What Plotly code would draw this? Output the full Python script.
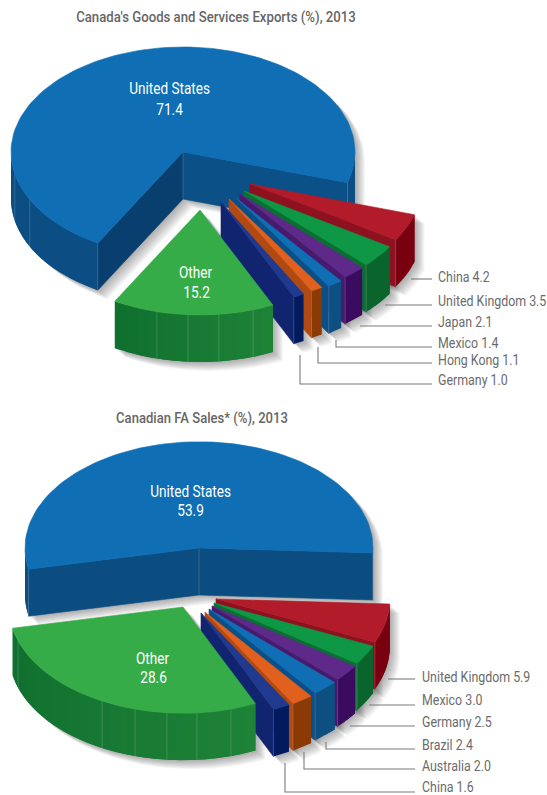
import json
import math
import plotly.graph_objects as go

# ---------- data ----------
exports_names = ["United States", "China", "United Kingdom", "Japan", "Mexico", "Hong Kong", "Germany", "Other"]
exports_values = [71.4, 4.2, 3.5, 2.1, 1.4, 1.1, 1.0, 15.2]
sales_names = ["United States", "United Kingdom", "Mexico", "Germany", "Brazil", "Australia", "China", "Other"]
sales_values = [53.9, 5.9, 3.0, 2.5, 2.4, 2.0, 1.6, 28.6]
title_exports = "Canada's Goods and Services Exports (%), 2013"
title_sales = "Canadian FA Sales* (%), 2013"

# ---------- styles / layout ----------
TOP = ["#0F6EB4", "#B21B2A", "#0E9744", "#5E2988", "#0F6EB4", "#E2601E", "#1F3A8F", "#36AC48"]
SIDE = ["#0B5187", "#8E1120", "#0B6E35", "#471A6E", "#0B4F85", "#B04A12", "#10246F", "#107030"]
SIDE_HI = ["#083F6E"] * 8
RIM_L = ["#0C4E83", "#78000F", "#0A652D", "#3A0B5E", "#0C4F80", "#8C3A05", "#021A5E", "#1E8237"]
RIM_R = ["#0C4E83", "#78000F", "#0A652D", "#3A0B5E", "#0C4F80", "#8C3A05", "#021A5E", "#0F6E2E"]
RATIO = 105 / 172
DEPTH = 47
GREY = "#6B6B6B"
FONT = "Roboto, sans-serif"
STEP = 4.0

exports_geo = dict(
    rx=172, start=-17,
    apex=[(183, 152), (250, 184), (244, 191), (240, 194), (236, 198), (229, 199), (221, 202), (200, 210)],
    seams={0: [192, 207], 7: [-104.5, -94, -83.7, -72]},
    side_hi="#083F6E", side0="#0B5187",
    inner=[("United States", 169, 88), ("Other", 196, 272)],
    inner_val=[109, 292],
    title_xy=(74, 17),
    label_x=435.5,
    label_y=[277, 301, 322, 343, 360, 380],
    leaders=[[(411, 279), (432, 279)], [(385, 305), (432, 305)], [(360, 326), (432, 326)],
             [(336, 340), (336, 347), (432, 347)], [(318, 347), (318, 363), (432, 363)],
             [(300, 355), (300, 384), (432, 384)]],
)
sales_geo = dict(
    rx=174, start=-2.7,
    apex=[(199, 548), (216, 599), (214, 603), (212, 606), (209, 609), (205, 612), (201, 613), (183, 607)],
    seams={7: [-161.4, -117.7, -106, -95.3, -85.4, -74]},
    side_hi="#0B4D80", side0="#0B4D80",
    inner=[("United States", 190, 491), ("Other", 153, 658)],
    inner_val=[510, 677],
    title_xy=(114, 418),
    label_x=419.5,
    label_y=[677, 700, 722, 745, 766, 787],
    leaders=[[(388, 679), (415, 679)], [(369, 705), (415, 705)], [(350, 726), (415, 726)],
             [(326, 742), (326, 749), (415, 749)], [(304, 752), (304, 769), (415, 769)],
             [(285, 763), (285, 792), (415, 792)]],
)

fig = go.Figure()
shadow_traces, wedge_traces = [], []


def poly(pts, fill, line=None, width=0.6):
    xs = [p[0] for p in pts] + [pts[0][0]]
    ys = [p[1] for p in pts] + [pts[0][1]]
    return go.Scatter(x=xs, y=ys, mode="lines", fill="toself", fillcolor=fill,
                      line=dict(color=line or fill, width=width), hoverinfo="skip", showlegend=False)


def stroke(pts, color, width=0.8):
    return go.Scatter(x=[p[0] for p in pts], y=[p[1] for p in pts], mode="lines",
                      line=dict(color=color, width=width), hoverinfo="skip", showlegend=False)


def mix(a, b, t):
    ca = [int(a[i:i + 2], 16) for i in (1, 3, 5)]
    cb = [int(b[i:i + 2], 16) for i in (1, 3, 5)]
    return "rgb(%d,%d,%d)" % tuple(round(x + (y - x) * t) for x, y in zip(ca, cb))


def hull(points):
    pts = sorted(set(points))
    def half(seq):
        out = []
        for p in seq:
            while len(out) > 1 and ((out[-1][0] - out[-2][0]) * (p[1] - out[-2][1])
                                    - (out[-1][1] - out[-2][1]) * (p[0] - out[-2][0])) <= 0:
                out.pop()
            out.append(p)
        return out[:-1]
    return half(pts) + half(pts[::-1])


def angle_steps(a, b, step=3.0):
    n = max(1, int(abs(b - a) / step))
    return [a + (b - a) * i / n for i in range(n + 1)]


def draw_chart(names, values, geo):
    rx, ry = geo["rx"], geo["rx"] * RATIO
    total = sum(values)
    spans = []
    first = values[0] / total * 360
    spans.append((geo["start"], geo["start"] + first))
    hi = geo["start"]
    for v in values[1:]:
        lo = hi - v / total * 360
        spans.append((lo, hi))
        hi = lo

    for i, (lo, hi) in enumerate(spans):
        ax, ay = geo["apex"][i]

        def P(th, d=0):
            t = math.radians(th)
            return (ax + rx * math.cos(t), ay - ry * math.sin(t) + d)

        arc = [P(a) for a in angle_steps(lo, hi, 2.0)]
        top_pts = [(ax, ay)] + arc

        # soft shadow silhouette
        if hi - lo > 180:
            sil = [(ax, ay + DEPTH)] + [P(a, DEPTH) for a in angle_steps(lo, 0)] \
                + [P(a) for a in angle_steps(0, 180)] \
                + [P(a, DEPTH) for a in angle_steps(180, hi)]
        else:
            sil = hull(top_pts + [(x, y + DEPTH) for x, y in top_pts])
        for k in range(1, 11):
            shadow_traces.append(poly([(x + k * 1.0, y + k * 0.9) for x, y in sil],
                                      "rgba(40,40,40,0.045)", width=0))

        # radial walls
        if math.cos(math.radians(hi)) < 0:
            wedge_traces.append(poly([(ax, ay), P(hi), P(hi, DEPTH), (ax, ay + DEPTH)],
                                     geo["side_hi"] if i == 0 else SIDE_HI[i]))
        if math.cos(math.radians(lo)) > 0:
            wedge_traces.append(poly([(ax, ay), P(lo), P(lo, DEPTH), (ax, ay + DEPTH)],
                                     geo["side0"] if i == 0 else SIDE[i]))

        # outer rim: only the part that faces the viewer; bands overlap so no gaps show
        ang = angle_steps(lo, hi, STEP)
        for j, (a, b) in enumerate(zip(ang[:-1], ang[1:])):
            if math.sin(math.radians((a + b) / 2)) < 0:
                t = (b - lo) / (hi - lo)
                col = mix(RIM_R[i], RIM_L[i], t)
                fine = angle_steps(a, b, 1.0)
                over = ang[j + 2] if j + 2 < len(ang) else b
                if math.sin(math.radians((b + over) / 2)) < 0:
                    fine = angle_steps(a, over, 1.0)
                wedge_traces.append(poly([P(x) for x in fine] + [P(x, DEPTH) for x in fine[::-1]], col, width=0))

        # seams and corners
        seam = "rgba(255,255,255,0.2)"
        for s in geo["seams"].get(i, []):
            wedge_traces.append(stroke([P(s), P(s, DEPTH)], seam))
        if math.cos(math.radians(lo)) > 0:
            wedge_traces.append(stroke([P(lo), P(lo, DEPTH)], seam))
        if math.cos(math.radians(hi)) < 0:
            wedge_traces.append(stroke([P(hi), P(hi, DEPTH)], seam))
        if i == 0:
            wedge_traces.append(stroke([(ax, ay), (ax, ay + DEPTH)], seam))

        # top surface
        wedge_traces.append(poly(top_pts, TOP[i]))

    # leaders and labels
    for path in geo["leaders"]:
        wedge_traces.append(stroke(path, "#7A7A7A", 1.1))
    annotations = []
    for name, value, y in zip(names[1:-1], values[1:-1], geo["label_y"]):
        annotations.append(dict(x=geo["label_x"], y=y, text=f"{name} {value:.1f}", showarrow=False,
                                xanchor="left", yanchor="middle",
                                font=dict(family=FONT, size=14.5, color=GREY)))
    for (name, x, y), yv in zip(geo["inner"], geo["inner_val"]):
        value = values[names.index(name)]
        annotations.append(dict(x=x, y=y, text=name, showarrow=False,
                                font=dict(family=FONT, size=16, color="white")))
        annotations.append(dict(x=x, y=yv, text=f"{value:.1f}", showarrow=False,
                                font=dict(family=FONT, size=16, color="white")))
    return annotations


anns = draw_chart(exports_names, exports_values, exports_geo)
anns += draw_chart(sales_names, sales_values, sales_geo)
for txt, geo in ((title_exports, exports_geo), (title_sales, sales_geo)):
    anns.append(dict(x=geo["title_xy"][0], y=geo["title_xy"][1], text=txt, showarrow=False,
                     xanchor="left", yanchor="middle",
                     font=dict(family=FONT, size=14.5, color="#666666", weight=500)))

fig.add_traces(shadow_traces + wedge_traces)
fig.update_layout(
    width=547, height=795, margin=dict(l=0, r=0, t=0, b=0),
    paper_bgcolor="white", plot_bgcolor="white", showlegend=False, annotations=anns,
    xaxis=dict(range=[0, 547], visible=False, fixedrange=True),
    yaxis=dict(range=[795, 0], visible=False, fixedrange=True),
)
widths = {title_exports: 280, title_sales: 172}
post = """
document.body.style.margin='0';document.body.style.overflow='hidden';
var W=%s;
document.querySelectorAll('text.annotation-text').forEach(function(t){
  var w=t.getComputedTextLength();var s=t.textContent;
  var white=(t.style.fill||'').indexOf('255, 255, 255')>=0;
  var target=W[s]||w*(white?0.85:0.855);
  var f=target/w;
  var x=parseFloat(t.getAttribute('x')||0);
  var x0=white?x:x-w/2;
  t.setAttribute('transform','translate('+x0+' 0) scale('+f+' 1) translate('+(-x0)+' 0)');
});
""" % json.dumps(widths)
fig.write_html("out.html", config=dict(displayModeBar=False), post_script=post)
